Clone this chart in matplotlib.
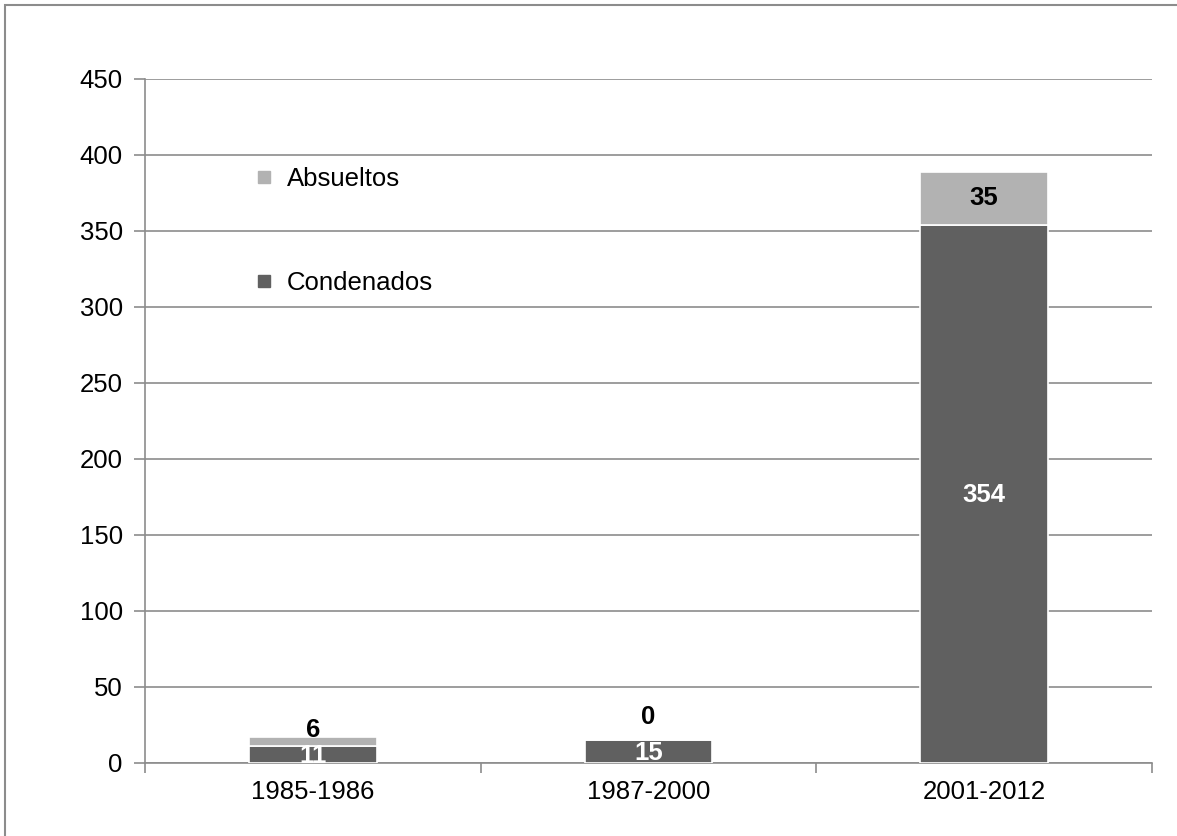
import matplotlib
matplotlib.use("Agg")
import matplotlib.pyplot as plt
from matplotlib.patches import Rectangle
from matplotlib.lines import Line2D
import numpy as np

categories = ["1985-1986", "1987-2000", "2001-2012"]
condenados = [11, 15, 354]
absueltos = [6, 0, 35]
yticks = [0, 50, 100, 150, 200, 250, 300, 350, 400, 450]

c_cond = "#606060"
c_abs = "#b2b2b2"
grid_c = "#8c8c8c"

plt.rcParams["font.family"] = ["Liberation Sans", "DejaVu Sans"]
FS = 18.5

fig = plt.figure(figsize=(11.77, 8.36), dpi=100)
ax = fig.add_axes([145/1177, 1-763/836, (1152-145)/1177, (763-79)/836])

x = np.arange(len(categories))
w = 0.38
ax.bar(x, condenados, w, color=c_cond, edgecolor="white", linewidth=1.2, zorder=3, label="Condenados")
ax.bar(x, absueltos, w, bottom=condenados, color=c_abs, edgecolor="white", linewidth=1.2, zorder=3, label="Absueltos")

# data labels
small_offsets = [5, 15, 0]
for i in range(len(categories)):
    c = condenados[i]; a = absueltos[i]
    ax.text(x[i], c/2 - 1, str(c), ha="center", va="center", color="white",
            fontsize=FS, fontweight="bold", zorder=5)
    if a >= 20:
        ax.text(x[i], c + a/2, str(a), ha="center", va="center", color="black",
                fontsize=FS, fontweight="bold", zorder=5)
    else:
        ax.text(x[i], c + a + small_offsets[i], str(a), ha="center", va="center", color="black",
                fontsize=FS, fontweight="bold", zorder=5)

ax.set_xlim(-0.5, 2.5)
ax.set_ylim(0, 450)
ax.set_yticks(yticks)
ax.set_yticklabels([str(v) for v in yticks], fontsize=FS)
ax.yaxis.grid(True, color=grid_c, linewidth=1.2, zorder=0)
ax.set_axisbelow(True)

ax.set_xticks(x)
ax.set_xticklabels(categories, fontsize=FS)
ax.tick_params(axis="x", length=0, pad=12)
ax.set_xticks([-0.5, 0.5, 1.5, 2.5], minor=True)
ax.tick_params(axis="x", which="minor", length=7, color=grid_c, width=1.2)
ax.tick_params(axis="y", length=8, color=grid_c, width=1.2, pad=8)

for s in ["top", "right"]:
    ax.spines[s].set_visible(False)
for s in ["left", "bottom"]:
    ax.spines[s].set_color(grid_c)
    ax.spines[s].set_linewidth(1.2)

handles = [
    Line2D([], [], marker="s", linestyle="none", markersize=8, color=c_abs, label="Absueltos"),
    Line2D([], [], marker="s", linestyle="none", markersize=8, color=c_cond, label="Condenados"),
]
leg = ax.legend(handles=handles, loc="upper left", bbox_to_anchor=(0.085, 0.905),
                frameon=False, fontsize=FS, labelspacing=3.1, handletextpad=0.5,
                handlelength=0.8)

# outer figure border
fig.patches.append(Rectangle((5/1177, -0.1), 1.2, 1 - 5/836 + 0.1, transform=fig.transFigure,
                             fill=False, edgecolor="#8c8c8c", linewidth=1.5))

fig.savefig("out.png", dpi=100)
